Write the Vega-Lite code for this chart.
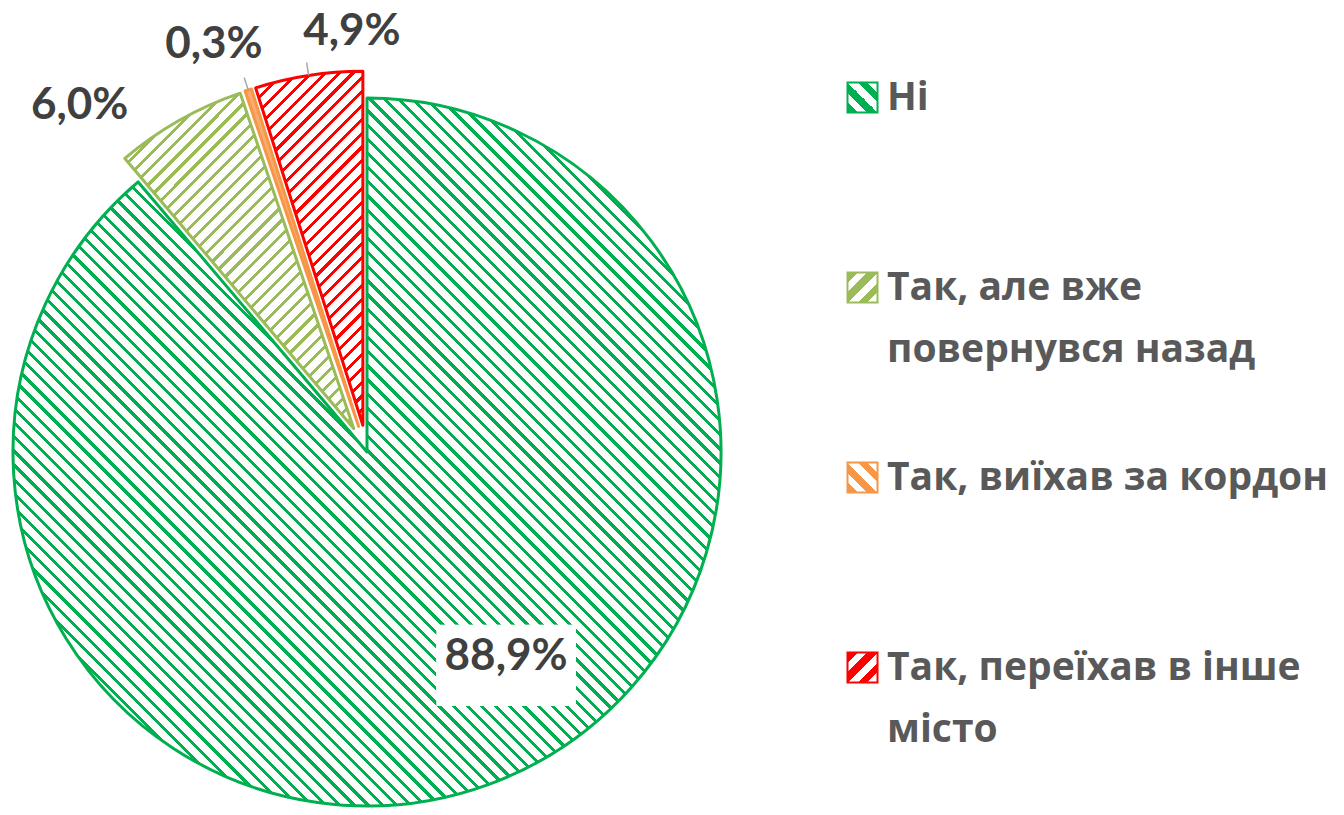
{
  "$schema": "https://vega.github.io/schema/vega-lite/v6.json",
  "width": 1344,
  "height": 815,
  "autosize": "none",
  "padding": 0,
  "background": "white",
  "config": {"view": {"stroke": null}, "style": {"guide-label": {"lineHeight": 62}}},
  "params": [
    {"name": "legG", "value": {"gradient": "linear", "x1": 0, "y1": 1, "x2": 1, "y2": 0, "stops": [
      {"offset": 0, "color": "#00B050"}, {"offset": 0.1667, "color": "#00B050"}, {"offset": 0.1667, "color": "#fff"}, {"offset": 0.3333, "color": "#fff"},
      {"offset": 0.3333, "color": "#00B050"}, {"offset": 0.5, "color": "#00B050"}, {"offset": 0.5, "color": "#fff"}, {"offset": 0.6667, "color": "#fff"},
      {"offset": 0.6667, "color": "#00B050"}, {"offset": 0.8333, "color": "#00B050"}, {"offset": 0.8333, "color": "#fff"}, {"offset": 1, "color": "#fff"}]}},
    {"name": "legO", "value": {"gradient": "linear", "x1": 0, "y1": 0, "x2": 1, "y2": 1, "stops": [
      {"offset": 0, "color": "#9BBB59"}, {"offset": 0.1667, "color": "#9BBB59"}, {"offset": 0.1667, "color": "#fff"}, {"offset": 0.3333, "color": "#fff"},
      {"offset": 0.3333, "color": "#9BBB59"}, {"offset": 0.5, "color": "#9BBB59"}, {"offset": 0.5, "color": "#fff"}, {"offset": 0.6667, "color": "#fff"},
      {"offset": 0.6667, "color": "#9BBB59"}, {"offset": 0.8333, "color": "#9BBB59"}, {"offset": 0.8333, "color": "#fff"}, {"offset": 1, "color": "#fff"}]}},
    {"name": "legA", "value": {"gradient": "linear", "x1": 0, "y1": 1, "x2": 1, "y2": 0, "stops": [
      {"offset": 0, "color": "#F79646"}, {"offset": 0.1667, "color": "#F79646"}, {"offset": 0.1667, "color": "#fff"}, {"offset": 0.3333, "color": "#fff"},
      {"offset": 0.3333, "color": "#F79646"}, {"offset": 0.5, "color": "#F79646"}, {"offset": 0.5, "color": "#fff"}, {"offset": 0.6667, "color": "#fff"},
      {"offset": 0.6667, "color": "#F79646"}, {"offset": 0.8333, "color": "#F79646"}, {"offset": 0.8333, "color": "#fff"}, {"offset": 1, "color": "#fff"}]}},
    {"name": "legR", "value": {"gradient": "linear", "x1": 0, "y1": 0, "x2": 1, "y2": 1, "stops": [
      {"offset": 0, "color": "#FF0000"}, {"offset": 0.1667, "color": "#FF0000"}, {"offset": 0.1667, "color": "#fff"}, {"offset": 0.3333, "color": "#fff"},
      {"offset": 0.3333, "color": "#FF0000"}, {"offset": 0.5, "color": "#FF0000"}, {"offset": 0.5, "color": "#fff"}, {"offset": 0.6667, "color": "#fff"},
      {"offset": 0.6667, "color": "#FF0000"}, {"offset": 0.8333, "color": "#FF0000"}, {"offset": 0.8333, "color": "#fff"}, {"offset": 1, "color": "#fff"}]}}
  ],
  "data": {"values": [
    {"cat": "Ні", "pct": 88.9, "label": "88,9%"},
    {"cat": "Так, але вже повернувся назад", "pct": 6.0, "label": "6,0%"},
    {"cat": "Так, виїхав за кордон", "pct": 0.3, "label": "0,3%"},
    {"cat": "Так, переїхав в інше місто", "pct": 4.9, "label": "4,9%"}
  ]},
  "encoding": {
    "theta": {"field": "pct", "type": "quantitative", "stack": true},
    "order": {"field": "cat", "type": "nominal", "sort": "ascending"}
  },
  "layer": [
    {
      "mark": {
        "type": "arc", "radius": 354, "strokeWidth": 3, "strokeJoin": "round",
        "x": {"expr": "367 + (datum.cat == 'Ні' ? 0 : 27 * sin(PI * (datum.pct_start + datum.pct_end) / 100.1))"},
        "y": {"expr": "452 - (datum.cat == 'Ні' ? 0 : 27 * cos(PI * (datum.pct_start + datum.pct_end) / 100.1))"}
      },
      "encoding": {
        "stroke": {
          "field": "cat", "type": "nominal",
          "scale": {"domain": ["Ні", "Так, але вже повернувся назад", "Так, виїхав за кордон", "Так, переїхав в інше місто"], "range": ["#00B050", "#9BBB59", "#F79646", "#FF0000"]}
        },
        "fill": {"condition": [
          {"test": "datum.cat == 'Ні'", "value": {"gradient": "linear", "x1": 0, "y1": 1, "x2": 1, "y2": 0, "stops": [
{"offset":0,"color":"#00B050"},{"offset":0.003,"color":"#00B050"},{"offset":0.003,"color":"#fff"},{"offset":0.01,"color":"#fff"},
{"offset":0.01,"color":"#00B050"},{"offset":0.013,"color":"#00B050"},{"offset":0.013,"color":"#fff"},{"offset":0.02,"color":"#fff"},
{"offset":0.02,"color":"#00B050"},{"offset":0.023,"color":"#00B050"},{"offset":0.023,"color":"#fff"},{"offset":0.03,"color":"#fff"},
{"offset":0.03,"color":"#00B050"},{"offset":0.033,"color":"#00B050"},{"offset":0.033,"color":"#fff"},{"offset":0.04,"color":"#fff"},
{"offset":0.04,"color":"#00B050"},{"offset":0.043,"color":"#00B050"},{"offset":0.043,"color":"#fff"},{"offset":0.05,"color":"#fff"},
{"offset":0.05,"color":"#00B050"},{"offset":0.053,"color":"#00B050"},{"offset":0.053,"color":"#fff"},{"offset":0.06,"color":"#fff"},
{"offset":0.06,"color":"#00B050"},{"offset":0.063,"color":"#00B050"},{"offset":0.063,"color":"#fff"},{"offset":0.07,"color":"#fff"},
{"offset":0.07,"color":"#00B050"},{"offset":0.073,"color":"#00B050"},{"offset":0.073,"color":"#fff"},{"offset":0.08,"color":"#fff"},
{"offset":0.08,"color":"#00B050"},{"offset":0.083,"color":"#00B050"},{"offset":0.083,"color":"#fff"},{"offset":0.09,"color":"#fff"},
{"offset":0.09,"color":"#00B050"},{"offset":0.093,"color":"#00B050"},{"offset":0.093,"color":"#fff"},{"offset":0.1,"color":"#fff"},
{"offset":0.1,"color":"#00B050"},{"offset":0.103,"color":"#00B050"},{"offset":0.103,"color":"#fff"},{"offset":0.11,"color":"#fff"},
{"offset":0.11,"color":"#00B050"},{"offset":0.113,"color":"#00B050"},{"offset":0.113,"color":"#fff"},{"offset":0.12,"color":"#fff"},
{"offset":0.12,"color":"#00B050"},{"offset":0.123,"color":"#00B050"},{"offset":0.123,"color":"#fff"},{"offset":0.13,"color":"#fff"},
{"offset":0.13,"color":"#00B050"},{"offset":0.133,"color":"#00B050"},{"offset":0.133,"color":"#fff"},{"offset":0.14,"color":"#fff"},
{"offset":0.14,"color":"#00B050"},{"offset":0.143,"color":"#00B050"},{"offset":0.143,"color":"#fff"},{"offset":0.15,"color":"#fff"},
{"offset":0.15,"color":"#00B050"},{"offset":0.153,"color":"#00B050"},{"offset":0.153,"color":"#fff"},{"offset":0.16,"color":"#fff"},
{"offset":0.16,"color":"#00B050"},{"offset":0.163,"color":"#00B050"},{"offset":0.163,"color":"#fff"},{"offset":0.17,"color":"#fff"},
{"offset":0.17,"color":"#00B050"},{"offset":0.173,"color":"#00B050"},{"offset":0.173,"color":"#fff"},{"offset":0.18,"color":"#fff"},
{"offset":0.18,"color":"#00B050"},{"offset":0.183,"color":"#00B050"},{"offset":0.183,"color":"#fff"},{"offset":0.19,"color":"#fff"},
{"offset":0.19,"color":"#00B050"},{"offset":0.193,"color":"#00B050"},{"offset":0.193,"color":"#fff"},{"offset":0.2,"color":"#fff"},
{"offset":0.2,"color":"#00B050"},{"offset":0.203,"color":"#00B050"},{"offset":0.203,"color":"#fff"},{"offset":0.21,"color":"#fff"},
{"offset":0.21,"color":"#00B050"},{"offset":0.213,"color":"#00B050"},{"offset":0.213,"color":"#fff"},{"offset":0.22,"color":"#fff"},
{"offset":0.22,"color":"#00B050"},{"offset":0.223,"color":"#00B050"},{"offset":0.223,"color":"#fff"},{"offset":0.23,"color":"#fff"},
{"offset":0.23,"color":"#00B050"},{"offset":0.233,"color":"#00B050"},{"offset":0.233,"color":"#fff"},{"offset":0.24,"color":"#fff"},
{"offset":0.24,"color":"#00B050"},{"offset":0.243,"color":"#00B050"},{"offset":0.243,"color":"#fff"},{"offset":0.25,"color":"#fff"},
{"offset":0.25,"color":"#00B050"},{"offset":0.253,"color":"#00B050"},{"offset":0.253,"color":"#fff"},{"offset":0.26,"color":"#fff"},
{"offset":0.26,"color":"#00B050"},{"offset":0.263,"color":"#00B050"},{"offset":0.263,"color":"#fff"},{"offset":0.27,"color":"#fff"},
{"offset":0.27,"color":"#00B050"},{"offset":0.273,"color":"#00B050"},{"offset":0.273,"color":"#fff"},{"offset":0.28,"color":"#fff"},
{"offset":0.28,"color":"#00B050"},{"offset":0.283,"color":"#00B050"},{"offset":0.283,"color":"#fff"},{"offset":0.29,"color":"#fff"},
{"offset":0.29,"color":"#00B050"},{"offset":0.293,"color":"#00B050"},{"offset":0.293,"color":"#fff"},{"offset":0.3,"color":"#fff"},
{"offset":0.3,"color":"#00B050"},{"offset":0.303,"color":"#00B050"},{"offset":0.303,"color":"#fff"},{"offset":0.31,"color":"#fff"},
{"offset":0.31,"color":"#00B050"},{"offset":0.313,"color":"#00B050"},{"offset":0.313,"color":"#fff"},{"offset":0.32,"color":"#fff"},
{"offset":0.32,"color":"#00B050"},{"offset":0.323,"color":"#00B050"},{"offset":0.323,"color":"#fff"},{"offset":0.33,"color":"#fff"},
{"offset":0.33,"color":"#00B050"},{"offset":0.333,"color":"#00B050"},{"offset":0.333,"color":"#fff"},{"offset":0.34,"color":"#fff"},
{"offset":0.34,"color":"#00B050"},{"offset":0.343,"color":"#00B050"},{"offset":0.343,"color":"#fff"},{"offset":0.35,"color":"#fff"},
{"offset":0.35,"color":"#00B050"},{"offset":0.353,"color":"#00B050"},{"offset":0.353,"color":"#fff"},{"offset":0.36,"color":"#fff"},
{"offset":0.36,"color":"#00B050"},{"offset":0.363,"color":"#00B050"},{"offset":0.363,"color":"#fff"},{"offset":0.37,"color":"#fff"},
{"offset":0.37,"color":"#00B050"},{"offset":0.373,"color":"#00B050"},{"offset":0.373,"color":"#fff"},{"offset":0.38,"color":"#fff"},
{"offset":0.38,"color":"#00B050"},{"offset":0.383,"color":"#00B050"},{"offset":0.383,"color":"#fff"},{"offset":0.39,"color":"#fff"},
{"offset":0.39,"color":"#00B050"},{"offset":0.393,"color":"#00B050"},{"offset":0.393,"color":"#fff"},{"offset":0.4,"color":"#fff"},
{"offset":0.4,"color":"#00B050"},{"offset":0.403,"color":"#00B050"},{"offset":0.403,"color":"#fff"},{"offset":0.41,"color":"#fff"},
{"offset":0.41,"color":"#00B050"},{"offset":0.413,"color":"#00B050"},{"offset":0.413,"color":"#fff"},{"offset":0.42,"color":"#fff"},
{"offset":0.42,"color":"#00B050"},{"offset":0.423,"color":"#00B050"},{"offset":0.423,"color":"#fff"},{"offset":0.43,"color":"#fff"},
{"offset":0.43,"color":"#00B050"},{"offset":0.433,"color":"#00B050"},{"offset":0.433,"color":"#fff"},{"offset":0.44,"color":"#fff"},
{"offset":0.44,"color":"#00B050"},{"offset":0.443,"color":"#00B050"},{"offset":0.443,"color":"#fff"},{"offset":0.45,"color":"#fff"},
{"offset":0.45,"color":"#00B050"},{"offset":0.453,"color":"#00B050"},{"offset":0.453,"color":"#fff"},{"offset":0.46,"color":"#fff"},
{"offset":0.46,"color":"#00B050"},{"offset":0.463,"color":"#00B050"},{"offset":0.463,"color":"#fff"},{"offset":0.47,"color":"#fff"},
{"offset":0.47,"color":"#00B050"},{"offset":0.473,"color":"#00B050"},{"offset":0.473,"color":"#fff"},{"offset":0.48,"color":"#fff"},
{"offset":0.48,"color":"#00B050"},{"offset":0.483,"color":"#00B050"},{"offset":0.483,"color":"#fff"},{"offset":0.49,"color":"#fff"},
{"offset":0.49,"color":"#00B050"},{"offset":0.493,"color":"#00B050"},{"offset":0.493,"color":"#fff"},{"offset":0.5,"color":"#fff"},
{"offset":0.5,"color":"#00B050"},{"offset":0.503,"color":"#00B050"},{"offset":0.503,"color":"#fff"},{"offset":0.51,"color":"#fff"},
{"offset":0.51,"color":"#00B050"},{"offset":0.513,"color":"#00B050"},{"offset":0.513,"color":"#fff"},{"offset":0.52,"color":"#fff"},
{"offset":0.52,"color":"#00B050"},{"offset":0.523,"color":"#00B050"},{"offset":0.523,"color":"#fff"},{"offset":0.53,"color":"#fff"},
{"offset":0.53,"color":"#00B050"},{"offset":0.533,"color":"#00B050"},{"offset":0.533,"color":"#fff"},{"offset":0.54,"color":"#fff"},
{"offset":0.54,"color":"#00B050"},{"offset":0.543,"color":"#00B050"},{"offset":0.543,"color":"#fff"},{"offset":0.55,"color":"#fff"},
{"offset":0.55,"color":"#00B050"},{"offset":0.553,"color":"#00B050"},{"offset":0.553,"color":"#fff"},{"offset":0.56,"color":"#fff"},
{"offset":0.56,"color":"#00B050"},{"offset":0.563,"color":"#00B050"},{"offset":0.563,"color":"#fff"},{"offset":0.57,"color":"#fff"},
{"offset":0.57,"color":"#00B050"},{"offset":0.573,"color":"#00B050"},{"offset":0.573,"color":"#fff"},{"offset":0.58,"color":"#fff"},
{"offset":0.58,"color":"#00B050"},{"offset":0.583,"color":"#00B050"},{"offset":0.583,"color":"#fff"},{"offset":0.59,"color":"#fff"},
{"offset":0.59,"color":"#00B050"},{"offset":0.593,"color":"#00B050"},{"offset":0.593,"color":"#fff"},{"offset":0.6,"color":"#fff"},
{"offset":0.6,"color":"#00B050"},{"offset":0.603,"color":"#00B050"},{"offset":0.603,"color":"#fff"},{"offset":0.61,"color":"#fff"},
{"offset":0.61,"color":"#00B050"},{"offset":0.613,"color":"#00B050"},{"offset":0.613,"color":"#fff"},{"offset":0.62,"color":"#fff"},
{"offset":0.62,"color":"#00B050"},{"offset":0.623,"color":"#00B050"},{"offset":0.623,"color":"#fff"},{"offset":0.63,"color":"#fff"},
{"offset":0.63,"color":"#00B050"},{"offset":0.633,"color":"#00B050"},{"offset":0.633,"color":"#fff"},{"offset":0.64,"color":"#fff"},
{"offset":0.64,"color":"#00B050"},{"offset":0.643,"color":"#00B050"},{"offset":0.643,"color":"#fff"},{"offset":0.65,"color":"#fff"},
{"offset":0.65,"color":"#00B050"},{"offset":0.653,"color":"#00B050"},{"offset":0.653,"color":"#fff"},{"offset":0.66,"color":"#fff"},
{"offset":0.66,"color":"#00B050"},{"offset":0.663,"color":"#00B050"},{"offset":0.663,"color":"#fff"},{"offset":0.67,"color":"#fff"},
{"offset":0.67,"color":"#00B050"},{"offset":0.673,"color":"#00B050"},{"offset":0.673,"color":"#fff"},{"offset":0.68,"color":"#fff"},
{"offset":0.68,"color":"#00B050"},{"offset":0.683,"color":"#00B050"},{"offset":0.683,"color":"#fff"},{"offset":0.69,"color":"#fff"},
{"offset":0.69,"color":"#00B050"},{"offset":0.693,"color":"#00B050"},{"offset":0.693,"color":"#fff"},{"offset":0.7,"color":"#fff"},
{"offset":0.7,"color":"#00B050"},{"offset":0.703,"color":"#00B050"},{"offset":0.703,"color":"#fff"},{"offset":0.71,"color":"#fff"},
{"offset":0.71,"color":"#00B050"},{"offset":0.713,"color":"#00B050"},{"offset":0.713,"color":"#fff"},{"offset":0.72,"color":"#fff"},
{"offset":0.72,"color":"#00B050"},{"offset":0.723,"color":"#00B050"},{"offset":0.723,"color":"#fff"},{"offset":0.73,"color":"#fff"},
{"offset":0.73,"color":"#00B050"},{"offset":0.733,"color":"#00B050"},{"offset":0.733,"color":"#fff"},{"offset":0.74,"color":"#fff"},
{"offset":0.74,"color":"#00B050"},{"offset":0.743,"color":"#00B050"},{"offset":0.743,"color":"#fff"},{"offset":0.75,"color":"#fff"},
{"offset":0.75,"color":"#00B050"},{"offset":0.753,"color":"#00B050"},{"offset":0.753,"color":"#fff"},{"offset":0.76,"color":"#fff"},
{"offset":0.76,"color":"#00B050"},{"offset":0.763,"color":"#00B050"},{"offset":0.763,"color":"#fff"},{"offset":0.77,"color":"#fff"},
{"offset":0.77,"color":"#00B050"},{"offset":0.773,"color":"#00B050"},{"offset":0.773,"color":"#fff"},{"offset":0.78,"color":"#fff"},
{"offset":0.78,"color":"#00B050"},{"offset":0.783,"color":"#00B050"},{"offset":0.783,"color":"#fff"},{"offset":0.79,"color":"#fff"},
{"offset":0.79,"color":"#00B050"},{"offset":0.793,"color":"#00B050"},{"offset":0.793,"color":"#fff"},{"offset":0.8,"color":"#fff"},
{"offset":0.8,"color":"#00B050"},{"offset":0.803,"color":"#00B050"},{"offset":0.803,"color":"#fff"},{"offset":0.81,"color":"#fff"},
{"offset":0.81,"color":"#00B050"},{"offset":0.813,"color":"#00B050"},{"offset":0.813,"color":"#fff"},{"offset":0.82,"color":"#fff"},
{"offset":0.82,"color":"#00B050"},{"offset":0.823,"color":"#00B050"},{"offset":0.823,"color":"#fff"},{"offset":0.83,"color":"#fff"},
{"offset":0.83,"color":"#00B050"},{"offset":0.833,"color":"#00B050"},{"offset":0.833,"color":"#fff"},{"offset":0.84,"color":"#fff"},
{"offset":0.84,"color":"#00B050"},{"offset":0.843,"color":"#00B050"},{"offset":0.843,"color":"#fff"},{"offset":0.85,"color":"#fff"},
{"offset":0.85,"color":"#00B050"},{"offset":0.853,"color":"#00B050"},{"offset":0.853,"color":"#fff"},{"offset":0.86,"color":"#fff"},
{"offset":0.86,"color":"#00B050"},{"offset":0.863,"color":"#00B050"},{"offset":0.863,"color":"#fff"},{"offset":0.87,"color":"#fff"},
{"offset":0.87,"color":"#00B050"},{"offset":0.873,"color":"#00B050"},{"offset":0.873,"color":"#fff"},{"offset":0.88,"color":"#fff"},
{"offset":0.88,"color":"#00B050"},{"offset":0.883,"color":"#00B050"},{"offset":0.883,"color":"#fff"},{"offset":0.89,"color":"#fff"},
{"offset":0.89,"color":"#00B050"},{"offset":0.893,"color":"#00B050"},{"offset":0.893,"color":"#fff"},{"offset":0.9,"color":"#fff"},
{"offset":0.9,"color":"#00B050"},{"offset":0.903,"color":"#00B050"},{"offset":0.903,"color":"#fff"},{"offset":0.91,"color":"#fff"},
{"offset":0.91,"color":"#00B050"},{"offset":0.913,"color":"#00B050"},{"offset":0.913,"color":"#fff"},{"offset":0.92,"color":"#fff"},
{"offset":0.92,"color":"#00B050"},{"offset":0.923,"color":"#00B050"},{"offset":0.923,"color":"#fff"},{"offset":0.93,"color":"#fff"},
{"offset":0.93,"color":"#00B050"},{"offset":0.933,"color":"#00B050"},{"offset":0.933,"color":"#fff"},{"offset":0.94,"color":"#fff"},
{"offset":0.94,"color":"#00B050"},{"offset":0.943,"color":"#00B050"},{"offset":0.943,"color":"#fff"},{"offset":0.95,"color":"#fff"},
{"offset":0.95,"color":"#00B050"},{"offset":0.953,"color":"#00B050"},{"offset":0.953,"color":"#fff"},{"offset":0.96,"color":"#fff"},
{"offset":0.96,"color":"#00B050"},{"offset":0.963,"color":"#00B050"},{"offset":0.963,"color":"#fff"},{"offset":0.97,"color":"#fff"},
{"offset":0.97,"color":"#00B050"},{"offset":0.973,"color":"#00B050"},{"offset":0.973,"color":"#fff"},{"offset":0.98,"color":"#fff"},
{"offset":0.98,"color":"#00B050"},{"offset":0.983,"color":"#00B050"},{"offset":0.983,"color":"#fff"},{"offset":0.99,"color":"#fff"},
{"offset":0.99,"color":"#00B050"},{"offset":0.993,"color":"#00B050"},{"offset":0.993,"color":"#fff"},{"offset":1,"color":"#fff"}
          ]}},
          {"test": "datum.cat == 'Так, але вже повернувся назад'", "value": {"gradient": "linear", "x1": 0, "y1": 0, "x2": 0.7834, "y2": 1.147, "stops": [
{"offset":0,"color":"#9BBB59"},{"offset":0.0075,"color":"#9BBB59"},{"offset":0.0075,"color":"#fff"},{"offset":0.025,"color":"#fff"},
{"offset":0.025,"color":"#9BBB59"},{"offset":0.0325,"color":"#9BBB59"},{"offset":0.0325,"color":"#fff"},{"offset":0.05,"color":"#fff"},
{"offset":0.05,"color":"#9BBB59"},{"offset":0.0575,"color":"#9BBB59"},{"offset":0.0575,"color":"#fff"},{"offset":0.075,"color":"#fff"},
{"offset":0.075,"color":"#9BBB59"},{"offset":0.0825,"color":"#9BBB59"},{"offset":0.0825,"color":"#fff"},{"offset":0.1,"color":"#fff"},
{"offset":0.1,"color":"#9BBB59"},{"offset":0.1075,"color":"#9BBB59"},{"offset":0.1075,"color":"#fff"},{"offset":0.125,"color":"#fff"},
{"offset":0.125,"color":"#9BBB59"},{"offset":0.1325,"color":"#9BBB59"},{"offset":0.1325,"color":"#fff"},{"offset":0.15,"color":"#fff"},
{"offset":0.15,"color":"#9BBB59"},{"offset":0.1575,"color":"#9BBB59"},{"offset":0.1575,"color":"#fff"},{"offset":0.175,"color":"#fff"},
{"offset":0.175,"color":"#9BBB59"},{"offset":0.1825,"color":"#9BBB59"},{"offset":0.1825,"color":"#fff"},{"offset":0.2,"color":"#fff"},
{"offset":0.2,"color":"#9BBB59"},{"offset":0.2075,"color":"#9BBB59"},{"offset":0.2075,"color":"#fff"},{"offset":0.225,"color":"#fff"},
{"offset":0.225,"color":"#9BBB59"},{"offset":0.2325,"color":"#9BBB59"},{"offset":0.2325,"color":"#fff"},{"offset":0.25,"color":"#fff"},
{"offset":0.25,"color":"#9BBB59"},{"offset":0.2575,"color":"#9BBB59"},{"offset":0.2575,"color":"#fff"},{"offset":0.275,"color":"#fff"},
{"offset":0.275,"color":"#9BBB59"},{"offset":0.2825,"color":"#9BBB59"},{"offset":0.2825,"color":"#fff"},{"offset":0.3,"color":"#fff"},
{"offset":0.3,"color":"#9BBB59"},{"offset":0.3075,"color":"#9BBB59"},{"offset":0.3075,"color":"#fff"},{"offset":0.325,"color":"#fff"},
{"offset":0.325,"color":"#9BBB59"},{"offset":0.3325,"color":"#9BBB59"},{"offset":0.3325,"color":"#fff"},{"offset":0.35,"color":"#fff"},
{"offset":0.35,"color":"#9BBB59"},{"offset":0.3575,"color":"#9BBB59"},{"offset":0.3575,"color":"#fff"},{"offset":0.375,"color":"#fff"},
{"offset":0.375,"color":"#9BBB59"},{"offset":0.3825,"color":"#9BBB59"},{"offset":0.3825,"color":"#fff"},{"offset":0.4,"color":"#fff"},
{"offset":0.4,"color":"#9BBB59"},{"offset":0.4075,"color":"#9BBB59"},{"offset":0.4075,"color":"#fff"},{"offset":0.425,"color":"#fff"},
{"offset":0.425,"color":"#9BBB59"},{"offset":0.4325,"color":"#9BBB59"},{"offset":0.4325,"color":"#fff"},{"offset":0.45,"color":"#fff"},
{"offset":0.45,"color":"#9BBB59"},{"offset":0.4575,"color":"#9BBB59"},{"offset":0.4575,"color":"#fff"},{"offset":0.475,"color":"#fff"},
{"offset":0.475,"color":"#9BBB59"},{"offset":0.4825,"color":"#9BBB59"},{"offset":0.4825,"color":"#fff"},{"offset":0.5,"color":"#fff"},
{"offset":0.5,"color":"#9BBB59"},{"offset":0.5075,"color":"#9BBB59"},{"offset":0.5075,"color":"#fff"},{"offset":0.525,"color":"#fff"},
{"offset":0.525,"color":"#9BBB59"},{"offset":0.5325,"color":"#9BBB59"},{"offset":0.5325,"color":"#fff"},{"offset":0.55,"color":"#fff"},
{"offset":0.55,"color":"#9BBB59"},{"offset":0.5575,"color":"#9BBB59"},{"offset":0.5575,"color":"#fff"},{"offset":0.575,"color":"#fff"},
{"offset":0.575,"color":"#9BBB59"},{"offset":0.5825,"color":"#9BBB59"},{"offset":0.5825,"color":"#fff"},{"offset":0.6,"color":"#fff"},
{"offset":0.6,"color":"#9BBB59"},{"offset":0.6075,"color":"#9BBB59"},{"offset":0.6075,"color":"#fff"},{"offset":0.625,"color":"#fff"},
{"offset":0.625,"color":"#9BBB59"},{"offset":0.6325,"color":"#9BBB59"},{"offset":0.6325,"color":"#fff"},{"offset":0.65,"color":"#fff"},
{"offset":0.65,"color":"#9BBB59"},{"offset":0.6575,"color":"#9BBB59"},{"offset":0.6575,"color":"#fff"},{"offset":0.675,"color":"#fff"},
{"offset":0.675,"color":"#9BBB59"},{"offset":0.6825,"color":"#9BBB59"},{"offset":0.6825,"color":"#fff"},{"offset":0.7,"color":"#fff"},
{"offset":0.7,"color":"#9BBB59"},{"offset":0.7075,"color":"#9BBB59"},{"offset":0.7075,"color":"#fff"},{"offset":0.725,"color":"#fff"},
{"offset":0.725,"color":"#9BBB59"},{"offset":0.7325,"color":"#9BBB59"},{"offset":0.7325,"color":"#fff"},{"offset":0.75,"color":"#fff"},
{"offset":0.75,"color":"#9BBB59"},{"offset":0.7575,"color":"#9BBB59"},{"offset":0.7575,"color":"#fff"},{"offset":0.775,"color":"#fff"},
{"offset":0.775,"color":"#9BBB59"},{"offset":0.7825,"color":"#9BBB59"},{"offset":0.7825,"color":"#fff"},{"offset":0.8,"color":"#fff"},
{"offset":0.8,"color":"#9BBB59"},{"offset":0.8075,"color":"#9BBB59"},{"offset":0.8075,"color":"#fff"},{"offset":0.825,"color":"#fff"},
{"offset":0.825,"color":"#9BBB59"},{"offset":0.8325,"color":"#9BBB59"},{"offset":0.8325,"color":"#fff"},{"offset":0.85,"color":"#fff"},
{"offset":0.85,"color":"#9BBB59"},{"offset":0.8575,"color":"#9BBB59"},{"offset":0.8575,"color":"#fff"},{"offset":0.875,"color":"#fff"},
{"offset":0.875,"color":"#9BBB59"},{"offset":0.8825,"color":"#9BBB59"},{"offset":0.8825,"color":"#fff"},{"offset":0.9,"color":"#fff"},
{"offset":0.9,"color":"#9BBB59"},{"offset":0.9075,"color":"#9BBB59"},{"offset":0.9075,"color":"#fff"},{"offset":0.925,"color":"#fff"},
{"offset":0.925,"color":"#9BBB59"},{"offset":0.9325,"color":"#9BBB59"},{"offset":0.9325,"color":"#fff"},{"offset":0.95,"color":"#fff"},
{"offset":0.95,"color":"#9BBB59"},{"offset":0.9575,"color":"#9BBB59"},{"offset":0.9575,"color":"#fff"},{"offset":0.975,"color":"#fff"},
{"offset":0.975,"color":"#9BBB59"},{"offset":0.9825,"color":"#9BBB59"},{"offset":0.9825,"color":"#fff"},{"offset":1,"color":"#fff"}
          ]}},
          {"test": "datum.cat == 'Так, переїхав в інше місто'", "value": {"gradient": "linear", "x1": 0, "y1": 0, "x2": 0.3607, "y2": 1.1932, "stops": [
{"offset":0,"color":"#FF0000"},{"offset":0.009,"color":"#FF0000"},{"offset":0.009,"color":"#fff"},{"offset":0.03,"color":"#fff"},
{"offset":0.03,"color":"#FF0000"},{"offset":0.039,"color":"#FF0000"},{"offset":0.039,"color":"#fff"},{"offset":0.06,"color":"#fff"},
{"offset":0.06,"color":"#FF0000"},{"offset":0.069,"color":"#FF0000"},{"offset":0.069,"color":"#fff"},{"offset":0.09,"color":"#fff"},
{"offset":0.09,"color":"#FF0000"},{"offset":0.099,"color":"#FF0000"},{"offset":0.099,"color":"#fff"},{"offset":0.12,"color":"#fff"},
{"offset":0.12,"color":"#FF0000"},{"offset":0.129,"color":"#FF0000"},{"offset":0.129,"color":"#fff"},{"offset":0.15,"color":"#fff"},
{"offset":0.15,"color":"#FF0000"},{"offset":0.159,"color":"#FF0000"},{"offset":0.159,"color":"#fff"},{"offset":0.18,"color":"#fff"},
{"offset":0.18,"color":"#FF0000"},{"offset":0.189,"color":"#FF0000"},{"offset":0.189,"color":"#fff"},{"offset":0.21,"color":"#fff"},
{"offset":0.21,"color":"#FF0000"},{"offset":0.219,"color":"#FF0000"},{"offset":0.219,"color":"#fff"},{"offset":0.24,"color":"#fff"},
{"offset":0.24,"color":"#FF0000"},{"offset":0.249,"color":"#FF0000"},{"offset":0.249,"color":"#fff"},{"offset":0.27,"color":"#fff"},
{"offset":0.27,"color":"#FF0000"},{"offset":0.279,"color":"#FF0000"},{"offset":0.279,"color":"#fff"},{"offset":0.3,"color":"#fff"},
{"offset":0.3,"color":"#FF0000"},{"offset":0.309,"color":"#FF0000"},{"offset":0.309,"color":"#fff"},{"offset":0.33,"color":"#fff"},
{"offset":0.33,"color":"#FF0000"},{"offset":0.339,"color":"#FF0000"},{"offset":0.339,"color":"#fff"},{"offset":0.36,"color":"#fff"},
{"offset":0.36,"color":"#FF0000"},{"offset":0.369,"color":"#FF0000"},{"offset":0.369,"color":"#fff"},{"offset":0.39,"color":"#fff"},
{"offset":0.39,"color":"#FF0000"},{"offset":0.399,"color":"#FF0000"},{"offset":0.399,"color":"#fff"},{"offset":0.42,"color":"#fff"},
{"offset":0.42,"color":"#FF0000"},{"offset":0.429,"color":"#FF0000"},{"offset":0.429,"color":"#fff"},{"offset":0.45,"color":"#fff"},
{"offset":0.45,"color":"#FF0000"},{"offset":0.459,"color":"#FF0000"},{"offset":0.459,"color":"#fff"},{"offset":0.48,"color":"#fff"},
{"offset":0.48,"color":"#FF0000"},{"offset":0.489,"color":"#FF0000"},{"offset":0.489,"color":"#fff"},{"offset":0.51,"color":"#fff"},
{"offset":0.51,"color":"#FF0000"},{"offset":0.519,"color":"#FF0000"},{"offset":0.519,"color":"#fff"},{"offset":0.54,"color":"#fff"},
{"offset":0.54,"color":"#FF0000"},{"offset":0.549,"color":"#FF0000"},{"offset":0.549,"color":"#fff"},{"offset":0.57,"color":"#fff"},
{"offset":0.57,"color":"#FF0000"},{"offset":0.579,"color":"#FF0000"},{"offset":0.579,"color":"#fff"},{"offset":0.6,"color":"#fff"},
{"offset":0.6,"color":"#FF0000"},{"offset":0.609,"color":"#FF0000"},{"offset":0.609,"color":"#fff"},{"offset":0.63,"color":"#fff"},
{"offset":0.63,"color":"#FF0000"},{"offset":0.639,"color":"#FF0000"},{"offset":0.639,"color":"#fff"},{"offset":0.66,"color":"#fff"},
{"offset":0.66,"color":"#FF0000"},{"offset":0.669,"color":"#FF0000"},{"offset":0.669,"color":"#fff"},{"offset":0.69,"color":"#fff"},
{"offset":0.69,"color":"#FF0000"},{"offset":0.699,"color":"#FF0000"},{"offset":0.699,"color":"#fff"},{"offset":0.72,"color":"#fff"},
{"offset":0.72,"color":"#FF0000"},{"offset":0.729,"color":"#FF0000"},{"offset":0.729,"color":"#fff"},{"offset":0.75,"color":"#fff"},
{"offset":0.75,"color":"#FF0000"},{"offset":0.759,"color":"#FF0000"},{"offset":0.759,"color":"#fff"},{"offset":0.78,"color":"#fff"},
{"offset":0.78,"color":"#FF0000"},{"offset":0.789,"color":"#FF0000"},{"offset":0.789,"color":"#fff"},{"offset":0.81,"color":"#fff"},
{"offset":0.81,"color":"#FF0000"},{"offset":0.819,"color":"#FF0000"},{"offset":0.819,"color":"#fff"},{"offset":0.84,"color":"#fff"},
{"offset":0.84,"color":"#FF0000"},{"offset":0.849,"color":"#FF0000"},{"offset":0.849,"color":"#fff"},{"offset":0.87,"color":"#fff"},
{"offset":0.87,"color":"#FF0000"},{"offset":0.879,"color":"#FF0000"},{"offset":0.879,"color":"#fff"},{"offset":0.9,"color":"#fff"},
{"offset":0.9,"color":"#FF0000"},{"offset":0.909,"color":"#FF0000"},{"offset":0.909,"color":"#fff"},{"offset":0.93,"color":"#fff"},
{"offset":0.93,"color":"#FF0000"},{"offset":0.939,"color":"#FF0000"},{"offset":0.939,"color":"#fff"},{"offset":0.96,"color":"#fff"},
{"offset":0.96,"color":"#FF0000"},{"offset":0.969,"color":"#FF0000"},{"offset":0.969,"color":"#fff"},{"offset":0.99,"color":"#fff"},
{"offset":0.99,"color":"#FF0000"},{"offset":0.999,"color":"#FF0000"},{"offset":0.999,"color":"#fff"},{"offset":1,"color":"#fff"}
          ]}}
        ], "value": "#F9AC70"}
      }
    },
    {
      "mark": {"type": "arc", "radius": 0, "x": 367, "y": 452},
      "encoding": {
        "stroke": {
          "field": "cat", "type": "nominal",
          "scale": {"domain": ["Ні", "Так, але вже повернувся назад", "Так, виїхав за кордон", "Так, переїхав в інше місто"], "range": ["#00B050", "#9BBB59", "#F79646", "#FF0000"]},
          "legend": {
            "orient": "none", "legendX": 843, "legendY": 78, "title": null, "padding": 0,
            "symbolType": "square", "symbolSize": 900, "symbolStrokeWidth": 2,
            "labelFont": "Open Sans", "labelFontSize": 39, "labelFontWeight": "bold", "labelColor": "#595959",
            "labelLimit": 1000, "labelOffset": 5, "rowPadding": 88,
            "labelExpr": "datum.label == 'Так, але вже повернувся назад' ? ['Так, але вже', 'повернувся назад'] : datum.label == 'Так, переїхав в інше місто' ? ['Так, переїхав в інше', 'місто'] : [datum.label, '']"
          }
        },
        "fill": {
          "field": "cat", "type": "nominal",
          "scale": {"domain": ["Ні", "Так, але вже повернувся назад", "Так, виїхав за кордон", "Так, переїхав в інше місто"], "range": [{"expr": "legG"}, {"expr": "legO"}, {"expr": "legA"}, {"expr": "legR"}]},
          "legend": {
            "orient": "none", "legendX": 843, "legendY": 78, "title": null, "padding": 0,
            "symbolType": "square", "symbolSize": 900, "symbolStrokeWidth": 2,
            "labelFont": "Open Sans", "labelFontSize": 39, "labelFontWeight": "bold", "labelColor": "#595959",
            "labelLimit": 1000, "labelOffset": 5, "rowPadding": 88,
            "labelExpr": "datum.label == 'Так, але вже повернувся назад' ? ['Так, але вже', 'повернувся назад'] : datum.label == 'Так, переїхав в інше місто' ? ['Так, переїхав в інше', 'місто'] : [datum.label, '']"
          }
        }
      }
    },
    {
      "mark": {
        "type": "arc", "radius": 367, "radius2": 354, "padAngle": 1, "filled": false,
        "stroke": "#A6A6A6", "strokeWidth": 1.5,
        "strokeOpacity": {"expr": "datum.cat == 'Так, виїхав за кордон' || datum.cat == 'Так, переїхав в інше місто' ? 1 : 0"},
        "x": {"expr": "367 + (datum.cat == 'Ні' ? 0 : 27 * sin(PI * (datum.pct_start + datum.pct_end) / 100.1))"},
        "y": {"expr": "452 - (datum.cat == 'Ні' ? 0 : 27 * cos(PI * (datum.pct_start + datum.pct_end) / 100.1))"}
      },
      "encoding": {"detail": {"field": "cat"}}
    },
    {
      "mark": {
        "type": "text", "x": 367, "y": 452, "font": "DejaVu Sans", "fontSize": 60, "lineHeight": 10, "dy": 6, "color": "#ffffff",
        "align": "center", "baseline": "middle",
        "text": {"expr": "datum.cat == 'Ні' ? ['███', '███'] : ''"},
        "radius": 248, "thetaOffset": -0.2437
      },
      "encoding": {"detail": {"field": "cat"}}
    },
    {
      "mark": {
        "type": "text", "x": 367, "y": 452, "font": "Lato, Open Sans", "fontSize": 44, "fontWeight": "bold", "color": "#404040",
        "align": "center", "baseline": "middle",
        "radius": {"expr": "datum.cat == 'Ні' ? 248 : datum.cat == 'Так, але вже повернувся назад' ? 450 : datum.cat == 'Так, виїхав за кордон' ? 435 : 420"},
        "thetaOffset": {"expr": "datum.cat == 'Ні' ? -0.2437 : datum.cat == 'Так, але вже повернувся назад' ? -0.178 : datum.cat == 'Так, виїхав за кордон' ? -0.0426 : 0.118"}
      },
      "encoding": {"detail": {"field": "cat"}, "text": {"field": "label"}}
    }
  ]
}
